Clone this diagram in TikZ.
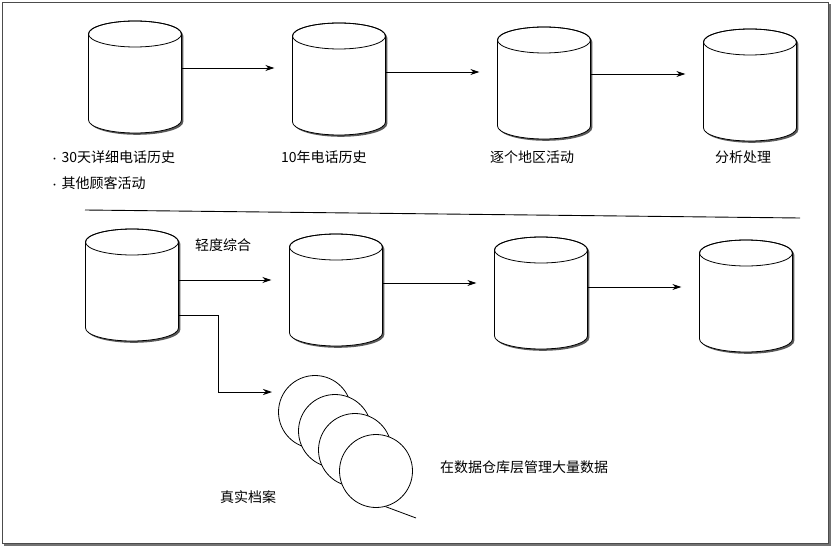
\documentclass[tikz,border=0pt]{standalone}
\usepackage{fontspec}
\newfontfamily\cjk{Noto Sans CJK SC}
\usetikzlibrary{arrows.meta}
\begin{document}
\begin{tikzpicture}[x=1pt,y=-1pt,
  pics/cyl/.style={code={
    \def\cylpath{(-46.5,0) -- (-46.5,86) arc[start angle=180,end angle=0,x radius=46.5,y radius=13] -- (46.5,0) arc[start angle=0,end angle=-180,x radius=46.5,y radius=13] -- cycle}
    \fill[black!65,shift={(1.8,1.8)}] \cylpath;
    \filldraw[fill=white,line width=0.8pt] \cylpath;
    \draw[line width=0.8pt] (0,0) ellipse[x radius=46.5,y radius=13];
    \node[inner sep=0pt,minimum width=93pt,minimum height=112pt] (-body) at (0,43) {};
  }},
  arr/.style={-{Stealth[length=9pt,width=6pt]},line width=0.8pt,shorten >=18pt},
  lbl/.style={font=\cjk\fontsize{14}{16}\selectfont,anchor=west,inner sep=0pt},
  disk/.style={circle,draw,line width=0.8pt,fill=white,minimum size=73pt,inner sep=0pt}]
\useasboundingbox (0,0) rectangle (834,548);
\draw[black!55,line width=1.2pt] (4,545) -- (830,545) -- (830,4);
\draw[black!70,line width=0.5pt] (2,2) rectangle (828,543);
% top row
\pic (a1) at (135,34) {cyl};
\pic (a2) at (339,36) {cyl};
\pic (a3) at (544,40) {cyl};
\pic (a4) at (750,42) {cyl};
\draw[arr] (a1-body.east |- 0,68) -- (a2-body.west |- 0,68);
\draw[arr] (a2-body.east |- 0,72) -- (a3-body.west |- 0,72);
\draw[arr] (a3-body.east |- 0,74) -- (a4-body.west |- 0,74);
\node[lbl] (t1) at (50,157) {{\fontsize{9}{9}\selectfont•}\,30天详细电话历史};
\node[lbl] (t2) at (50,183) {{\fontsize{9}{9}\selectfont•}\,其他顾客活动};
\node[lbl] (t3) at (281,157) {10年电话历史};
\node[lbl] (t4) at (490,157) {逐个地区活动};
\node[lbl] (t5) at (715,157) {分析处理};
\coordinate (l1) at (85,210);
\coordinate (l2) at (800,218);
\draw[line width=0.9pt] (l1) -- (l2);
% bottom row
\pic (b1) at (132,242) {cyl};
\pic (b2) at (336,247) {cyl};
\pic (b3) at (541,250) {cyl};
\pic (b4) at (746,253) {cyl};
\draw[arr] (b1-body.east |- 0,280) -- (b2-body.west |- 0,280);
\draw[arr] (b2-body.east |- 0,283) -- (b3-body.west |- 0,283);
\draw[arr] (b3-body.east |- 0,287) -- (b4-body.west |- 0,287);
\node[lbl] (t6) at (195,245) {轻度综合};
% archive
\node[disk] (d1) at (315,412) {};
\node[disk] (d2) at (335,431) {};
\node[disk] (d3) at (355,450) {};
\node[disk] (d4) at (376,471) {};
\coordinate (k) at (218,315);
\draw[-{Stealth[length=9pt,width=6pt]},line width=0.8pt] (b1-body.east |- k) -- (k) |- (272,392) coordinate (ke);
\coordinate (tail) at (416,518);
\draw[line width=0.8pt] (d4.-75) -- (tail);
\node[lbl] (t7) at (220,497) {真实档案};
\node[lbl] (t8) at (440,467) {在数据仓库层管理大量数据};
\end{tikzpicture}
\end{document}
